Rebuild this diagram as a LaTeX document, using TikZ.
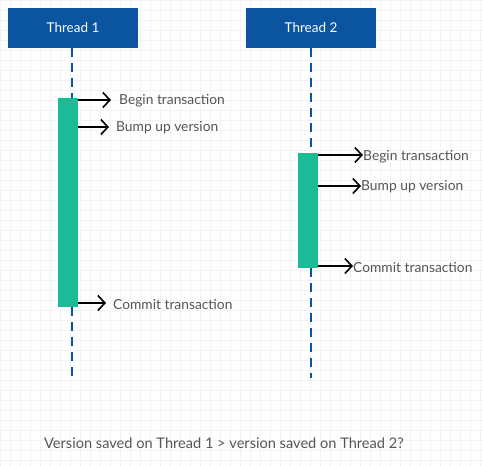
\documentclass[tikz,border=0pt]{standalone}
\usepackage{fontspec}
\setmainfont{Lato}
\usetikzlibrary{arrows.meta}
\definecolor{hdr}{RGB}{11,84,160}
\definecolor{act}{RGB}{26,188,150}
\definecolor{txt}{RGB}{85,85,85}
\definecolor{gridc}{RGB}{243,243,243}
\tikzset{
  header/.style={fill=hdr, draw=none, text=white, minimum width=130pt, minimum height=40pt, font=\fontsize{13.5}{16}\selectfont, inner sep=0pt},
  lifeline/.style={draw=hdr, line width=2pt, dash pattern=on 9pt off 6pt},
  actbox/.style={fill=act, draw=none, minimum width=20pt, inner sep=0pt},
  msg/.style={draw=black, line width=1.6pt, -{Straight Barb[length=7pt,width=15pt,line width=1.6pt]}},
  lbl/.style={text=txt, font=\fontsize{13.8}{16}\selectfont, anchor=west, inner sep=0pt},
}
\begin{document}
\begin{tikzpicture}[x=1pt,y=-1pt]
\useasboundingbox (0,0) rectangle (483,466);
\fill[white] (0,0) rectangle (483,466);
\draw[gridc, line width=0.6pt, step=10pt] (0,0) grid (483,466);
% headers
\node[header] (t1) at (73,28) {Thread 1};
\node[header] (t2) at (311,28) {Thread 2};
% activation boxes
\node[actbox, minimum height=209pt] (a1) at (68,202.5) {};
\node[actbox, minimum height=115pt] (a2) at (308,210.5) {};
% lifeline ends
\coordinate (e1) at (72,378);
\coordinate (e2) at (311,378);
\draw[lifeline] (72,48) -- (72,98);
\draw[lifeline] (72,307) -- (e1);
\draw[lifeline] (t2.south) -- (t2.south |- a2.north);
\draw[lifeline] (t2.south |- a2.south) -- (e2);
% thread 1 messages
\node[lbl] (m1) at (119,101) {Begin transaction};
\node[lbl] (m2) at (116,128) {Bump up version};
\node[lbl] (m3) at (113,304) {Commit transaction};
\draw[msg] (a1.east |- 0,100) -- (111,100);
\draw[msg] (a1.east |- 0,127) -- (109,127);
\draw[msg] (a1.east |- 0,303) -- (106,303);
% thread 2 messages
\node[lbl] (n1) at (363,157) {Begin transaction};
\node[lbl] (n2) at (361,187) {Bump up version};
\node[lbl] (n3) at (353,267) {Commit transaction};
\draw[msg] (a2.east |- 0,155) -- (n1.west |- 0,155);
\draw[msg] (a2.east |- 0,186) -- (n2.west |- 0,186);
\draw[msg] (a2.east |- 0,266) -- (n3.west |- 0,266);
% footer
\node[lbl, font=\fontsize{14.6}{17}\selectfont] (q) at (44,443) {Version saved on Thread 1 > version saved on Thread 2?};
\end{tikzpicture}
\end{document}
